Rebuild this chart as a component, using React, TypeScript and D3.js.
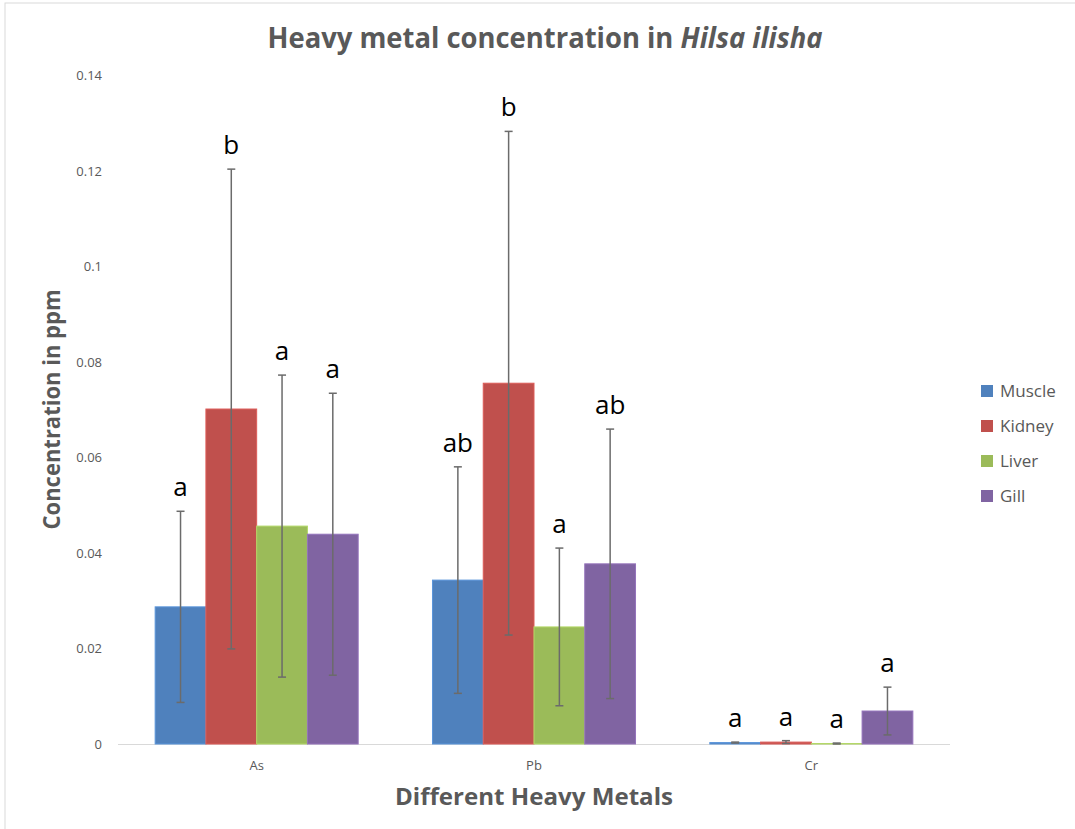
import React from "react";
import * as d3 from "d3";

const categories = ["As", "Pb", "Cr"];
const series = ["Muscle", "Kidney", "Liver", "Gill"];
const colors = ["#4f81bd", "#c0504d", "#9bbb59", "#8064a2"];
const muscleValues = [0.0287, 0.0343, 0.0003];
const muscleErrors = [0.02, 0.0237, 0.0001];
const kidneyValues = [0.0701, 0.0755, 0.0004];
const kidneyErrors = [0.0502, 0.0527, 0.0003];
const liverValues = [0.0456, 0.0245, 0.0001];
const liverErrors = [0.0316, 0.0165, 0.0001];
const gillValues = [0.0439, 0.0377, 0.0069];
const gillErrors = [0.0295, 0.0282, 0.005];
const muscleLetters = ["a", "ab", "a"];
const kidneyLetters = ["b", "b", "a"];
const liverLetters = ["a", "a", "a"];
const gillLetters = ["a", "ab", "a"];
const yTicks = [0, 0.02, 0.04, 0.06, 0.08, 0.1, 0.12, 0.14];

const allValues = [muscleValues, kidneyValues, liverValues, gillValues];
const allErrors = [muscleErrors, kidneyErrors, liverErrors, gillErrors];
const allLetters = [muscleLetters, kidneyLetters, liverLetters, gillLetters];

const W = 1075;
const H = 829;
const left = 118;
const right = 950;
const top = 75;
const bottom = 744;
const font = "'Open Sans', 'Noto Sans', sans-serif";

export default function App() {
  const x0 = d3.scaleBand<string>().domain(categories).range([left, right]).padding(0);
  const x1 = d3
    .scaleBand<string>()
    .domain(series)
    .range([0, x0.bandwidth()])
    .paddingInner(0)
    .paddingOuter(0.732);
  const y = d3.scaleLinear().domain([0, 0.14]).range([bottom, top]);
  const cap = 4;

  return (
    <svg
      width={W}
      height={H}
      style={{ position: "absolute", left: 0, top: 0, background: "#fff" }}
      fontFamily={font}
    >
      <rect x={5} y={3} width={W + 10} height={H + 10} fill="#fff" stroke="#d9d9d9" strokeWidth={1} />
      <text
        x={545}
        y={48}
        textAnchor="middle"
        fontSize={28}
        fontWeight="bold"
        fill="#595959"
        textLength={555}
        lengthAdjust="spacingAndGlyphs"
      >
        Heavy metal concentration in <tspan fontStyle="italic">Hilsa ilisha</tspan>
      </text>

      {yTicks.map((t) => (
        <text key={t} x={102} y={y(t) + 5} textAnchor="end" fontSize={13} fill="#595959">
          {String(t)}
        </text>
      ))}

      <line x1={left} x2={right} y1={bottom + 0.5} y2={bottom + 0.5} stroke="#d9d9d9" strokeWidth={1} />

      {categories.map((c) => (
        <text key={c} x={x0(c)! + x0.bandwidth() / 2} y={770} textAnchor="middle" fontSize={13} fill="#595959">
          {c}
        </text>
      ))}

      {series.map((s, si) =>
        categories.map((c, ci) => {
          const v = allValues[si][ci];
          const bx = x0(c)! + x1(s)!;
          const bw = x1.bandwidth();
          return (
            <rect
              key={s + c}
              x={bx}
              y={y(v)}
              width={bw}
              height={bottom - y(v)}
              fill={colors[si]}
              stroke={d3.color(colors[si])!.brighter(0.4).toString()}
              strokeWidth={1}
            />
          );
        })
      )}

      {series.map((s, si) =>
        categories.map((c, ci) => {
          const v = allValues[si][ci];
          const e = allErrors[si][ci];
          const cx = x0(c)! + x1(s)! + x1.bandwidth() / 2;
          const yt = y(v + e);
          const yb = y(Math.max(0, v - e));
          return (
            <g key={"e" + s + c} stroke="#6b6b6b" strokeWidth={1.5}>
              <line x1={cx} x2={cx} y1={yt} y2={yb} />
              <line x1={cx - cap} x2={cx + cap} y1={yt} y2={yt} />
              <line x1={cx - cap} x2={cx + cap} y1={yb} y2={yb} />
            </g>
          );
        })
      )}

      {series.map((s, si) =>
        categories.map((c, ci) => {
          const v = allValues[si][ci];
          const e = allErrors[si][ci];
          const cx = x0(c)! + x1(s)! + x1.bandwidth() / 2;
          return (
            <text key={"l" + s + c} x={cx} y={y(v + e) - 15} textAnchor="middle" fontSize={26} fill="#000">
              {allLetters[si][ci]}
            </text>
          );
        })
      )}

      <text
        x={534}
        y={805}
        textAnchor="middle"
        fontSize={24}
        fontWeight="bold"
        fill="#595959"
        textLength={278}
        lengthAdjust="spacingAndGlyphs"
      >
        Different Heavy Metals
      </text>
      <text
        transform={`translate(60, ${(top + bottom) / 2}) rotate(-90)`}
        textAnchor="middle"
        fontSize={23}
        fontWeight="bold"
        fill="#595959"
        textLength={240}
        lengthAdjust="spacingAndGlyphs"
      >
        Concentration in ppm
      </text>

      {series.map((s, si) => (
        <g key={"lg" + s} transform={`translate(981, ${391 + si * 35})`}>
          <rect x={0} y={-6} width={12} height={12} fill={colors[si]} />
          <text x={19} y={6} fontSize={17} fill="#595959">
            {s}
          </text>
        </g>
      ))}
    </svg>
  );
}
